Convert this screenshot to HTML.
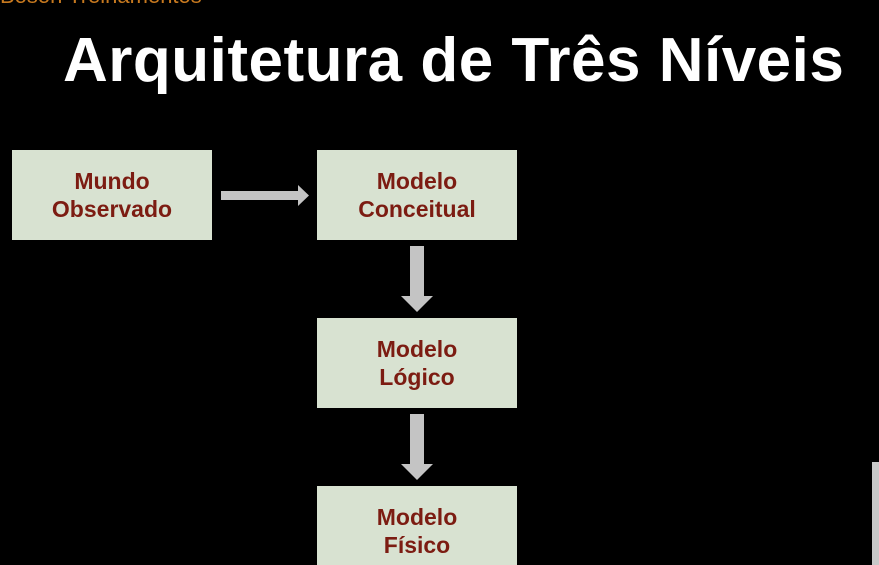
<!DOCTYPE html>
<html><head><meta charset="utf-8"><style>
html,body{margin:0;padding:0;background:#000;width:879px;height:565px;overflow:hidden;position:relative;font-family:"Liberation Sans",sans-serif}
.t{position:absolute;left:63px;top:25px;color:#fff;font-weight:bold;font-size:62px;white-space:nowrap;letter-spacing:0.5px}
.top{position:absolute;left:0;top:-17px;color:#c7791f;font-size:22px;white-space:nowrap}
.b{position:absolute;width:200px;height:90px;background:#d8e2d1;color:#7c1c12;font-weight:bold;font-size:23px;line-height:28px;text-align:center;display:flex;align-items:center;justify-content:center}
.strip{position:absolute;left:872px;top:462px;width:7px;height:103px;background:#c8c8c8}
</style></head><body>
<div class="top">Boson Treinamentos</div>
<div class="t">Arquitetura de Três Níveis</div>
<div class="b" style="left:12px;top:150px">Mundo<br>Observado</div>
<div class="b" style="left:317px;top:150px">Modelo<br>Conceitual</div>
<div class="b" style="left:317px;top:318px">Modelo<br>Lógico</div>
<div class="b" style="left:317px;top:486px;height:90px">Modelo<br>Físico</div>
<svg width="879" height="565" style="position:absolute;left:0;top:0">
<polygon points="221,191 298,191 298,185 309,195.5 298,206 298,200 221,200" fill="#c4c4c4"/>
<polygon points="410,246 424,246 424,296 433,296 417,312 401,296 410,296" fill="#c4c4c4"/>
<polygon points="410,414 424,414 424,464 433,464 417,480 401,464 410,464" fill="#c4c4c4"/>
</svg>
<div class="strip"></div>
</body></html>
